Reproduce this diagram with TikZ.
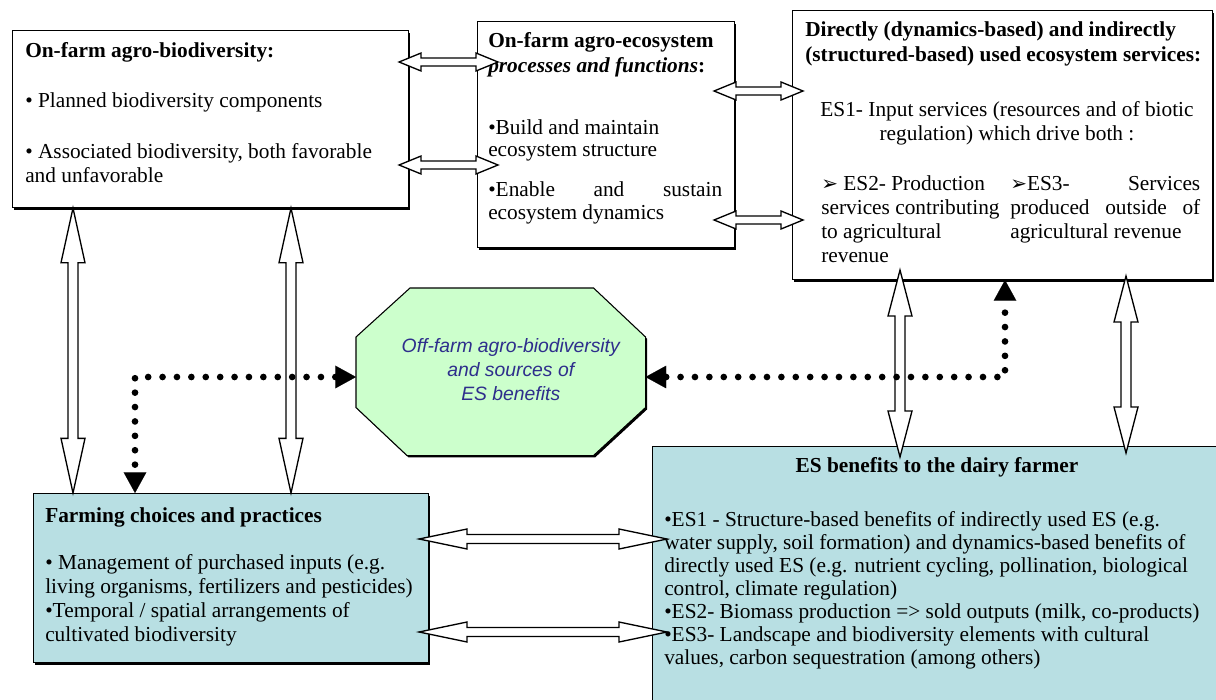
\documentclass[tikz,border=0pt]{standalone}
\usepackage{fontspec}
\setmainfont{Liberation Serif}
\setsansfont{Liberation Sans}
\newfontfamily\dejavu{DejaVu Sans}
\usetikzlibrary{calc,arrows.meta,shadows}
\definecolor{boxblue}{RGB}{184,223,227}
\definecolor{octgreen}{RGB}{204,255,204}
\definecolor{octtext}{RGB}{46,46,140}
\newcommand{\arrhd}{{\dejavu\fontsize{15}{15}\selectfont ➢}}
\tikzset{
  ba hl/.store in=\bahl, ba hw/.store in=\bahw, ba sw/.store in=\basw,
  ba hl=20pt, ba hw=7pt, ba sw=3pt,
  blockarrow/.style={draw=black, fill=white, line width=1pt, line join=miter,
    to path={(\tikztostart)
      -- ($(\tikztostart)!\bahl!(\tikztotarget)!\bahw!90:(\tikztotarget)$)
      -- ($(\tikztostart)!\bahl!(\tikztotarget)!\basw!90:(\tikztotarget)$)
      -- ($(\tikztotarget)!\bahl!(\tikztostart)!\basw!-90:(\tikztostart)$)
      -- ($(\tikztotarget)!\bahl!(\tikztostart)!\bahw!-90:(\tikztostart)$)
      -- (\tikztotarget)
      -- ($(\tikztotarget)!\bahl!(\tikztostart)!\bahw!90:(\tikztostart)$)
      -- ($(\tikztotarget)!\bahl!(\tikztostart)!\basw!90:(\tikztostart)$)
      -- ($(\tikztostart)!\bahl!(\tikztotarget)!\basw!-90:(\tikztotarget)$)
      -- ($(\tikztostart)!\bahl!(\tikztotarget)!\bahw!-90:(\tikztotarget)$)
      -- cycle}},
  box/.style={draw=black, line width=0.8pt, inner sep=0pt, anchor=north west,
    drop shadow={shadow xshift=1.4pt, shadow yshift=-1.6pt, opacity=1, fill=black}},
  txt/.style={inner sep=0pt, anchor=base west, font=\fontsize{16}{19}\selectfont},
  ctxt/.style={inner sep=0pt, anchor=base, font=\fontsize{16}{19}\selectfont},
  octo/.style={draw=black, line width=0.8pt, fill=octgreen,
    drop shadow={shadow xshift=1.2pt, shadow yshift=-1.4pt, opacity=1, fill=black}},
  dotconn/.style={draw=black, line width=5pt, line cap=round,
    dash pattern=on 0pt off 10.8pt, <->,
    >={Triangle[length=15.5pt,width=17pt,line width=0.1pt]}},
}
\begin{document}
\begin{tikzpicture}[x=0.75pt,y=-0.75pt]
\clip (0,0) rectangle (1216,699);
\fill[white] (0,0) rectangle (1216,699);

% boxes
\node[box, fill=white, minimum width=297pt, minimum height=132.75pt] (A) at (12,30) {};
\node[box, fill=white, minimum width=192.75pt, minimum height=169.5pt] (B) at (477,21) {};
\node[box, fill=white, minimum width=315pt, minimum height=201.75pt] (C) at (792,10) {};
\node[box, fill=boxblue, minimum width=296.25pt, minimum height=126.75pt] (E) at (33,493) {};
\node[box, fill=boxblue, minimum width=435pt, minimum height=202.5pt] (F) at (652,446) {};

% octagon
\path node[inner sep=0pt, anchor=north west, minimum width=216.75pt, minimum height=125.25pt] (D) at (356,288) {};
\draw[octo] ($(D.north west)+(54,0)$) -- ($(D.north east)+(-52,0)$) -- ($(D.north east)+(0,49)$)
  -- ($(D.south east)+(0,-48)$) -- ($(D.south east)+(-52,0)$) -- ($(D.south west)+(51,0)$)
  -- ($(D.south west)+(0,-48)$) -- ($(D.north west)+(0,49)$) -- cycle;
\node[font=\sffamily\itshape\fontsize{14.5}{18}\selectfont, text=octtext, align=center, inner sep=0pt]
  (Dt) at ($(D.center)+(10,-2)$) {Off-farm agro-biodiversity\\and sources of\\ES benefits};

% box A text
\node[txt] (a1) at (25,58) {\bfseries On-farm agro-biodiversity:};
\node[txt] (a2) at (25,107) {• Planned biodiversity components};
\node[txt] (a3) at (25,158) {• Associated biodiversity, both favorable};
\node[txt] (a4) at (25,182) {and unfavorable};

% box B text
\node[txt] (b1) at (488,48) {\bfseries On-farm agro-ecosystem};
\node[txt] (b2) at (488,73) {\bfseries\itshape processes and functions\upshape:};
\node[txt] (b3) at (488,134) {•Build and maintain};
\node[txt] (b4) at (488,156) {ecosystem structure};
\node[txt] (b5) at (488,196) {\hbox to 175.5pt{•Enable\hfill and\hfill sustain}};
\node[txt] (b6) at (488,219) {ecosystem dynamics};

% box C text
\node[txt] (c1) at (805,37) {\bfseries Directly (dynamics-based) and indirectly};
\node[txt] (c2) at (805,62) {\bfseries (structured-based) used ecosystem services:};
\node[ctxt] (c3) at (1007,116) {ES1- Input services (resources and of biotic};
\node[ctxt] (c4) at (1007,140) {regulation) which drive both :};
\node[txt] (c5) at (821,190) {\arrhd\ ES2- Production};
\node[txt] (c6) at (821,214) {services contributing};
\node[txt] (c7) at (821,238) {to agricultural};
\node[txt] (c8) at (821,262) {revenue};
\node[txt] (c9) at (1010,190) {\hbox to 142.5pt{\arrhd ES3-\hfill Services}};
\node[txt] (c10) at (1010,214) {\hbox to 142.5pt{produced\hfill outside\hfill of}};
\node[txt] (c11) at (1010,238) {agricultural revenue};

% box E text
\node[txt] (e1) at (45,522) {\bfseries Farming choices and practices};
\node[txt] (e2) at (45,569) {• Management of purchased inputs (e.g.};
\node[txt] (e3) at (45,593) {living organisms, fertilizers and pesticides)};
\node[txt] (e4) at (45,617) {•Temporal / spatial arrangements of};
\node[txt] (e5) at (45,641) {cultivated biodiversity};

% box F text
\node[ctxt] (f1) at (937,472) {\bfseries ES benefits to the dairy farmer};
\node[txt] (f2) at (664,526) {•ES1 - Structure-based benefits of indirectly used ES (e.g.};
\node[txt] (f3) at (664,549) {water supply, soil formation) and dynamics-based benefits of};
\node[txt] (f4) at (664,572) {directly used ES (e.g. nutrient cycling, pollination, biological};
\node[txt] (f5) at (664,595) {control, climate regulation)};
\node[txt] (f6) at (664,618) {•ES2- Biomass production => sold outputs (milk, co-products)};
\node[txt] (f7) at (664,641) {•ES3- Landscape and biodiversity elements with cultural};
\node[txt] (f8) at (664,664) {values, carbon sequestration (among others)};

% block arrow end points
\coordinate (ab1s) at ($(A.east |- 0,62)+(-10,0)$);
\coordinate (ab1t) at ($(B.west |- 0,62)+(21,0)$);
\coordinate (ab2s) at ($(A.east |- 0,165)+(-10,0)$);
\coordinate (ab2t) at ($(B.west |- 0,165)+(21,0)$);
\coordinate (bc1s) at ($(B.east |- 0,91)+(-21,0)$);
\coordinate (bc1t) at ($(C.west |- 0,91)+(11,0)$);
\coordinate (bc2s) at ($(B.east |- 0,220)+(-21,0)$);
\coordinate (bc2t) at ($(C.west |- 0,220)+(11,0)$);
\coordinate (ae1s) at (A.south -| 73,0);
\coordinate (ae1t) at (E.north -| 73,0);
\coordinate (ae2s) at (A.south -| 291,0);
\coordinate (ae2t) at (E.north -| 291,0);
\coordinate (cf1s) at ($(C.south -| 900,0)+(0,-10)$);
\coordinate (cf1t) at ($(F.north -| 900,0)+(0,11)$);
\coordinate (cf2s) at ($(C.south -| 1126,0)+(0,-4)$);
\coordinate (cf2t) at ($(F.north -| 1126,0)+(0,7)$);
\coordinate (ef1s) at ($(E.east |- 0,539)+(-10,0)$);
\coordinate (ef1t) at ($(F.west |- 0,539)+(15,0)$);
\coordinate (ef2s) at ($(E.east |- 0,632)+(-10,0)$);
\coordinate (ef2t) at ($(F.west |- 0,632)+(15,0)$);

\draw[blockarrow, ba hl=16.5pt, ba hw=6.75pt, ba sw=3pt] (ab1s) to (ab1t);
\draw[blockarrow, ba hl=16.5pt, ba hw=6.75pt, ba sw=3pt] (ab2s) to (ab2t);
\draw[blockarrow, ba hl=16.5pt, ba hw=6.75pt, ba sw=3pt] (bc1s) to (bc1t);
\draw[blockarrow, ba hl=16.5pt, ba hw=6.75pt, ba sw=3pt] (bc2s) to (bc2t);
\draw[blockarrow, ba hl=41pt, ba hw=9pt, ba sw=3.75pt] (ae1s) to (ae1t);
\draw[blockarrow, ba hl=41pt, ba hw=9pt, ba sw=3.75pt] (ae2s) to (ae2t);
\draw[blockarrow, ba hl=34.5pt, ba hw=9pt, ba sw=3.75pt] (cf1s) to (cf1t);
\draw[blockarrow, ba hl=34.5pt, ba hw=9pt, ba sw=3.75pt] (cf2s) to (cf2t);
\draw[blockarrow, ba hl=36pt, ba hw=7.5pt, ba sw=3.4pt] (ef1s) to (ef1t);
\draw[blockarrow, ba hl=36pt, ba hw=7.5pt, ba sw=3.4pt] (ef2s) to (ef2t);

% dotted connectors
\draw[dotconn] (D.west |- 0,377) -| (E.north -| 135,0);
\draw[dotconn] (D.east |- 0,377) -| (C.south -| 1005,0);
\end{tikzpicture}
\end{document}
